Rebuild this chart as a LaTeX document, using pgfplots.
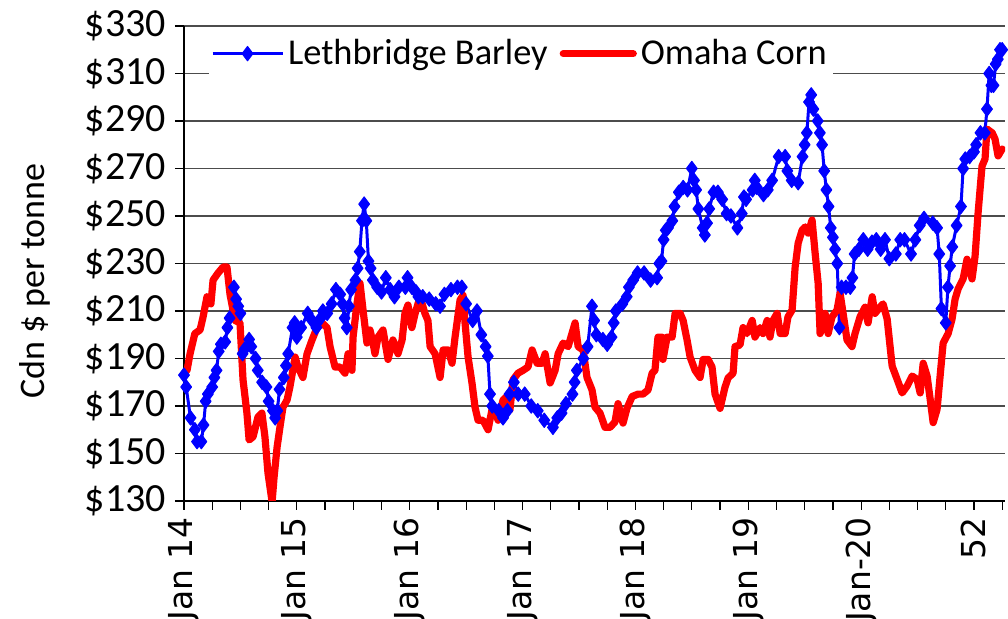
\documentclass[border=0pt]{standalone}
\usepackage{fontspec}
\setmainfont{Carlito}
\newfontfamily\dejavu{DejaVu Sans}
\usepackage{pgfplots}
\pgfplotsset{compat=1.18}
\usepackage{pgfplotstable}

\pgfplotstableread{
x y
0 183
1 178
3 165
5 160
6 155
8 155
9 162
10 172
11 175
13 178
14 182
15 185
16 193
17 196
19 197
20 203
21 207
23 220
24 215
25 212
26 209
27 192
28 194
30 198
31 195
33 190
34 185
36 180
38 178
39 172
41 168
42 165
43 168
44 177
46 182
47 187
48 192
50 203
51 205
52 199
54 203
57 209
59 206
61 203
63 207
64 210
66 209
68 213
70 219
72 217
73 213
74 207
75 203
76 212
77 219
79 223
80 228
81 235
82 248
83 255
84 248
85 231
86 228
87 223
89 220
91 218
93 224
95 219
97 216
99 220
102 220
103 224
105 220
107 218
108 216
110 216
113 215
116 213
118 212
120 217
123 219
126 220
128 220
130 213
133 206
135 210
137 200
139 195
140 191
141 175
142 170
145 168
147 165
149 168
150 175
152 180
154 175
157 175
160 170
163 168
166 164
170 161
172 165
174 167
176 171
179 175
180 180
181 185
184 190
186 195
188 212
189 206
190 200
193 198
195 196
197 199
198 205
199 210
202 213
204 216
205 220
207 223
209 226
212 226
215 223
218 224
219 230
220 231
221 240
222 244
223 245
225 248
226 254
228 260
230 262
232 261
234 270
235 265
236 261
237 253
239 245
240 242
241 247
242 253
244 260
246 260
248 257
250 251
252 250
255 245
257 251
258 258
259 257
262 261
263 265
264 262
267 259
269 261
271 265
274 275
277 275
278 269
280 265
283 264
285 275
286 280
287 285
288 298
289 301
290 295
292 290
293 285
294 280
295 269
296 261
297 254
298 245
299 241
300 236
301 230
302 203
303 220
305 220
307 220
308 224
309 234
311 236
313 240
315 236
317 239
319 240
321 236
323 240
325 232
328 234
330 240
332 240
335 234
337 240
339 246
341 249
345 247
347 245
348 234
349 211
351 205
352 220
353 229
354 237
356 246
358 254
359 270
360 274
362 275
364 277
365 280
367 285
369 285
370 295
371 310
372 305
373 305
374 314
375 316
376 320
377 320
}\barley

\pgfplotstableread{
x y
0 184
1.4 185
2.8 192
5 200.5
7.4 202
8.8 207.5
10.6 216
12.4 213
13.4 223
15.7 226
18 228.5
19.8 228.5
21.2 217
23.5 206
25.8 205
27.2 181
29 167
30 155.7
31.8 157
34.1 165.4
35.9 167
37.3 157
38.7 141.8
40.6 129.6
41.5 140
42.9 152.7
44.2 161
45.6 169.5
47.5 172.5
48.8 178
51.2 190.6
52.5 186.4
54.8 182
56.7 192
59 197.8
61.3 203
63.6 205
65.9 203
67.3 195
69.6 186.4
71.9 186.4
74.2 183.8
75.6 192
77.4 185
77.9 199
79.7 213
81.1 221.7
82.5 210.4
84.3 196.5
85.7 202
87.1 196.5
88 192
89.4 199
91.7 202
94 189.6
96.3 197.8
98.6 192
100.5 197.8
101.8 209
103.2 212.5
105 203
106.5 209
108.8 216
111 209
112.4 206
113.4 195
115.7 192
118 182
119.4 193.6
121.7 193.6
123.5 188
124.9 199
127.2 214.6
128.6 216.6
129.5 205
130.9 190.6
132.7 179.7
134.1 169.5
135.5 164
137.8 164
140.1 160
141.9 168.4
143.3 168.4
144.7 164
147 172.5
148.8 174
150.2 168.4
151.6 181
153.9 183.8
156.2 185
158.5 186.4
160.4 193.6
162.7 188
165 188
166.4 192
168.7 179.7
171 185
172.4 192
174.7 196.5
177 195
180.2 205
181.6 195
183.9 193.6
185.7 182
188 176.8
189.4 169.5
191.7 167
194 161
196.3 161
198.6 163.3
200 171
202.3 162.8
204.1 169
206.5 174
209.2 175
211.5 175
213.8 176.7
215.7 183.8
217 185
218.4 199
220.3 199
220.7 189.6
222.6 199
224.9 199
226.3 209
228.6 209
230 206
231.8 197.8
233.2 190.6
235.5 185
237.8 182
239.2 189.6
241.5 189.6
243.3 186.4
244.7 175
247 169
249.3 178
250.7 181.8
253 183.8
253.9 195
256.2 195.7
257.6 203
259.4 200.5
261.8 206
263.1 199
265.4 203
266.8 200.5
268.7 206
270 199
271.4 206
273.3 209
274.7 200.5
277 200.5
278.3 207.5
280.2 210.4
281.6 228.5
283 238.6
284.8 244
286.2 245.4
287.6 242.8
289.4 248.3
290.8 234.4
292.2 221.7
293.1 200.5
295.4 209
296.8 200.5
298.6 207.5
300.9 210.4
302.3 217.5
303.7 209
305.5 197.8
307.8 195
309.2 200.5
311.5 207.5
313.8 211.6
315.2 205
317.1 216
318.4 209
320.7 211.6
322.1 213
324 206.6
326.3 186.8
328.6 181.2
330.9 175.5
333.2 178.4
335.5 182.6
337.8 181.2
339.2 175.5
340.6 188
342.4 182.6
343.8 173
345.2 163
347 168.6
348.4 182.6
349.8 196.5
352.1 200.5
353.9 206.6
355.3 215
356.7 219.3
359 223.5
360.8 231.8
363.1 223.5
364.5 233
365.9 251.3
367.7 271
369.1 274
370 286.6
372.4 285
373.7 282.4
375.1 275.3
377 278.2
}\corn

\begin{document}
\begin{tikzpicture}
\begin{axis}[
  name=ax,
  scale only axis,
  width=410.5pt, height=237.5pt,
  xmin=0, xmax=378.3, ymin=130, ymax=330,
  axis x line*=bottom, axis y line*=left,
  axis line style={black, line width=0.7pt, -},
  xtick={0,52,...,364},
  xticklabels={Jan 14,Jan 15,Jan 16,Jan 17,Jan 18,Jan 19,Jan-20,52},
  minor xtick={13,26,39,65,78,91,117,130,143,169,182,195,221,234,247,273,286,299,325,338,351,377},
  tick align=outside,
  major tick length=4.5pt, minor tick length=4.5pt,
  tick style={black, line width=0.6pt},
  xticklabel style={font=\dejavu\fontsize{16.5}{20}\selectfont, rotate=90, anchor=east},
  ytick={130,150,170,190,210,230,250,270,290,310,330},
  yticklabels={\$130,\$150,\$170,\$190,\$210,\$230,\$250,\$270,\$290,\$310,\$330},
  yticklabel style={font=\fontsize{20}{23}\selectfont, xshift=-1pt},
  ymajorgrids,
  grid style={black!70, line width=0.7pt},
  ylabel={Cdn \$ per tonne},
  ylabel style={font=\fontsize{18}{21}\selectfont, at={(axis description cs:-0.1815,0.463)}, anchor=center},
  legend columns=2,
  legend style={at={(axis description cs:0.03,0.985)}, anchor=north west, draw=none, fill=white,
    font=\fontsize{18.2}{21}\selectfont, inner sep=1pt,
    /tikz/every even column/.append style={column sep=4pt}},
  legend image code/.code={\draw[mark repeat=2, mark phase=2, #1] plot coordinates {(0pt,0pt) (17.5pt,0pt) (35pt,0pt)};},
]
\addplot[color={rgb,255:red,0;green,0;blue,255}, line width=1.5pt, mark=diamond*, mark size=3.6pt,
  mark options={solid, fill={rgb,255:red,0;green,0;blue,255}, line width=0.5pt}, line join=round]
  table[x=x, y=y] {\barley};
\addlegendentry{Lethbridge Barley}
\addplot[color={rgb,255:red,255;green,0;blue,0}, line width=3.6pt, mark=none, line join=round, line cap=round]
  table[x=x, y=y] {\corn};
\addlegendentry{Omaha Corn}
\end{axis}
\pgfresetboundingbox
\useasboundingbox ([xshift=-92pt,yshift=-59pt]ax.south west) rectangle ([xshift=1.5pt,yshift=13pt]ax.north east);
\end{tikzpicture}
\end{document}
